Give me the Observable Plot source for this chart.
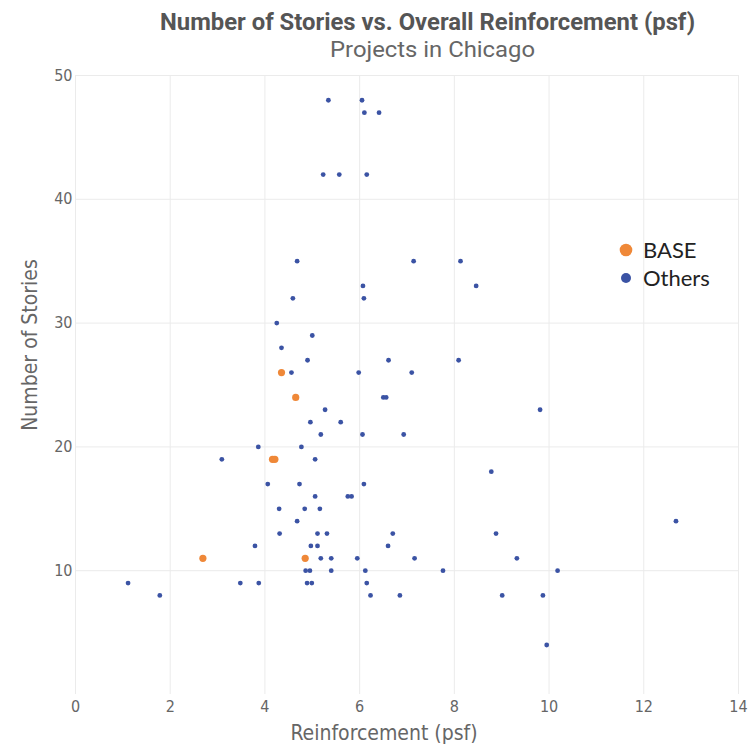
<!DOCTYPE html>
<html><head><meta charset="utf-8">
<script src="https://cdn.jsdelivr.net/npm/d3@7"></script>
<script src="https://cdn.jsdelivr.net/npm/@observablehq/plot@0.6"></script>
<style>
body{margin:0;background:#fff;}
#wrap{position:relative;width:749px;height:749px;}
#wrap svg{position:absolute;left:0;top:0;}
</style></head><body>
<div id="wrap"></div>
<script>
// Data
const othersX = [5.34,6.05,6.10,6.41,5.23,5.57,6.15,4.68,7.14,8.13,6.07,8.46,4.59,6.09,4.25,5.00,4.35,4.90,6.61,8.09,
  4.56,5.98,7.10,6.50,6.56,5.27,9.81,4.96,5.60,5.18,6.06,6.93,3.86,4.77,3.09,5.06,8.78,4.06,4.73,6.09,
  5.06,5.75,5.83,4.30,4.84,5.16,4.68,12.68,4.31,5.11,5.31,6.70,8.88,3.79,4.97,5.11,6.60,5.18,5.40,5.95,
  7.16,9.32,4.86,4.95,5.40,6.12,7.76,10.18,1.11,3.48,3.87,4.89,4.99,6.15,1.78,6.23,6.85,9.01,9.87,9.95];
const othersY = [48,48,47,47,42,42,42,35,35,35,33,33,32,32,30,29,28,27,27,27,
  26,26,26,24,24,23,23,22,22,21,21,21,20,20,19,19,18,17,17,17,
  16,16,16,15,15,15,14,14,13,13,13,13,13,12,12,12,12,11,11,11,
  11,11,10,10,10,10,10,10,9,9,9,9,9,9,8,8,8,8,8,4];
const baseX = [4.35,4.65,4.16,4.21,2.69,4.85];
const baseY = [26,24,19,19,11,11];
const xTicks = [0,2,4,6,8,10,12,14];
const yTicks = [10,20,30,40,50];
const seriesNames = ["BASE","Others"];
const seriesColors = ["#ef8838","#3b53a4"];

const others = othersX.map((x,i)=>({x, y: othersY[i]}));
const base = baseX.map((x,i)=>({x, y: baseY[i]}));

const font = "'DejaVu Sans Condensed','Liberation Sans Narrow',sans-serif";
const chart = Plot.plot({
  width: 749, height: 749,
  marginLeft: 75, marginRight: 11, marginTop: 75, marginBottom: 55,
  style: {fontFamily: font, fontSize: "16px", color: "#666", background: "transparent"},
  x: {domain: [0,14], ticks: xTicks, label: null, tickSize: 0, tickPadding: 6},
  y: {domain: [0,50], ticks: yTicks, label: null, tickSize: 0, tickPadding: 3},
  marks: [
    Plot.gridX(xTicks, {stroke: "#ebebeb", strokeOpacity: 1}),
    Plot.gridY(yTicks, {stroke: "#ebebeb", strokeOpacity: 1}),
    Plot.dot(others, {x: "x", y: "y", r: 2.4, fill: seriesColors[1]}),
    Plot.dot(base, {x: "x", y: "y", r: 3.6, fill: seriesColors[0]}),
    Plot.text(["Reinforcement (psf)"], {frameAnchor: "bottom", textAnchor: "middle", lineAnchor: "middle", dx: -23, dy: 39, fontSize: 21, fill: "#666", fontFamily: font}),
    Plot.text(["Number of Stories"], {frameAnchor: "left", textAnchor: "middle", lineAnchor: "middle", dx: -45, dy: -40, rotate: -90, fontSize: 21, fill: "#666", fontFamily: font})
  ]
});
document.getElementById("wrap").appendChild(chart);

// Overlay: title, subtitle, legend
const ov = d3.select("#wrap").append("svg").attr("width",749).attr("height",749);
ov.append("text").attr("x",160).attr("y",30)
  .attr("textLength",535).attr("lengthAdjust","spacingAndGlyphs")
  .attr("font-family","Roboto, 'DejaVu Sans', sans-serif").attr("font-size",23).attr("font-weight","bold").attr("fill","#555")
  .text("Number of Stories vs. Overall Reinforcement (psf)");
ov.append("text").attr("x",330).attr("y",57)
  .attr("textLength",205).attr("lengthAdjust","spacingAndGlyphs")
  .attr("font-family","Roboto, 'DejaVu Sans', sans-serif").attr("font-size",22).attr("fill","#666")
  .text("Projects in Chicago");
const lg = ov.append("g");
seriesNames.forEach((n,i)=>{
  lg.append("circle").attr("cx",626).attr("cy",250+i*28).attr("r", i===0?6.3:5).attr("fill",seriesColors[i]);
  lg.append("text").attr("x",643).attr("y",258+i*28).attr("font-family","Lato, 'Open Sans', sans-serif")
    .attr("font-size",22).attr("fill","#222").text(n);
});
</script>
</body></html>
